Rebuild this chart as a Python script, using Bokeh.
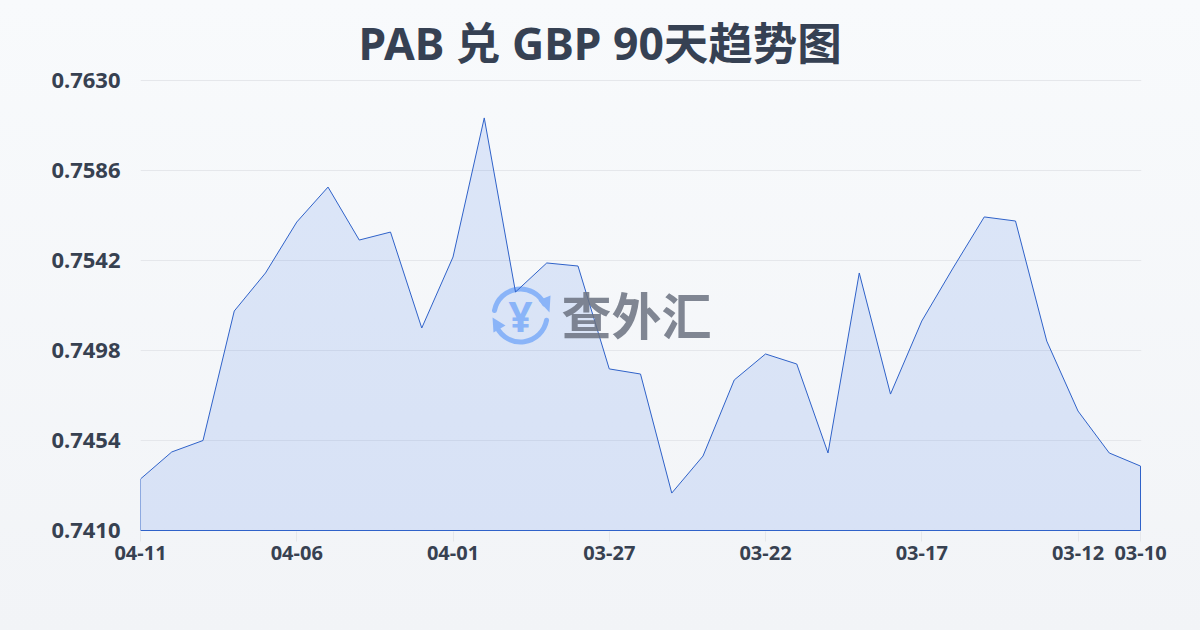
from bokeh.plotting import figure
from bokeh.embed import file_html
from bokeh.resources import INLINE
from bokeh.models import FixedTicker, Label

title = "PAB 兑 GBP 90天趋势图"
tick_labels = ["04-11", "04-06", "04-01", "03-27", "03-22", "03-17", "03-12", "03-10"]
tick_index = [0, 5, 10, 15, 20, 25, 30, 32]
y_ticks = [0.7410, 0.7454, 0.7498, 0.7542, 0.7586, 0.7630]
rates = [0.74352, 0.74484, 0.7454, 0.75173, 0.75359, 0.75608, 0.75779, 0.75520, 0.75559,
         0.7509, 0.75437, 0.76117, 0.75266, 0.75408, 0.75393, 0.74890, 0.74865, 0.74283,
         0.74464, 0.74836, 0.74963, 0.74914, 0.74479, 0.75359, 0.74767, 0.75124, 0.75383,
         0.75633, 0.75613, 0.75026, 0.74684, 0.74479, 0.74415]

LEFT, RIGHT, TOP, BOTTOM = 140, 1141, 79, 531
idx = list(range(len(rates)))
x_px = 32 / 1000
y_px = 0.022 / 450
x0, x1 = 0, 32 + x_px
y0, y1 = 0.7410 - y_px, 0.7630 + y_px

p = figure(width=1200, height=630, output_backend="svg", toolbar_location=None,
           x_range=(x0, x1), y_range=(y0, y1),
           min_border_left=LEFT, min_border_right=1200 - RIGHT,
           min_border_top=TOP, min_border_bottom=630 - BOTTOM,
           background_fill_alpha=0, border_fill_alpha=0, outline_line_color=None,
           styles={"position": "fixed", "left": "0", "top": "0",
                   "background": "linear-gradient(180deg, #f8fafc 0%, #f2f4f7 100%)"})

p.title.text = title
p.title.text_font = "Noto Sans, Noto Sans CJK SC"
p.title.text_font_size = "44.5px"
p.title.text_font_style = "bold"
p.title.text_color = "#364153"
p.title.align = "left"
p.title.offset = 218
p.title.standoff = 14

p.xgrid.visible = False
p.ygrid.grid_line_color = "#e5e7eb"
p.ygrid.grid_line_width = 1
p.ygrid.ticker = FixedTicker(ticks=y_ticks)

p.xaxis.ticker = FixedTicker(ticks=tick_index)
p.xaxis.major_label_overrides = dict(zip(tick_index, tick_labels))
p.xaxis.axis_line_color = None
p.xaxis.major_tick_line_color = "#e5e7eb"
p.xaxis.major_tick_in = 0
p.xaxis.major_tick_out = 10
p.xaxis.minor_tick_line_color = None
p.xaxis.major_label_text_font = "Noto Sans"
p.xaxis.major_label_text_font_style = "bold"
p.xaxis.major_label_text_font_size = "20px"
p.xaxis.major_label_text_color = "#374151"
p.xaxis.major_label_standoff = 4

p.yaxis.ticker = FixedTicker(ticks=y_ticks)
p.yaxis.major_label_overrides = {t: f"{t:.4f}" for t in y_ticks}
p.yaxis.axis_line_color = None
p.yaxis.major_tick_line_color = None
p.yaxis.minor_tick_line_color = None
p.yaxis.major_label_text_font = "Noto Sans"
p.yaxis.major_label_text_font_style = "bold"
p.yaxis.major_label_text_font_size = "22px"
p.yaxis.major_label_text_color = "#374151"
p.yaxis.major_label_standoff = 14

xs = [idx[0]] + idx + [idx[-1], idx[0]]
ys = [y_ticks[0]] + rates + [y_ticks[0], y_ticks[0]]
p.patch(xs, ys, fill_color="#2563eb", fill_alpha=0.13, line_color=None)

# watermark, positioned from pixel coordinates
def dx(px):
    return x0 + (px - LEFT) * x_px
def dy(py):
    return y0 + (BOTTOM - py) * y_px

logo = "#8ab4f8"
cx, cy = dx(520), dy(315)
p.arc([cx], [cy], radius=26.5, radius_units="screen", start_angle=0.45, end_angle=2.95,
      line_color=logo, line_width=5, line_cap="round")
p.arc([cx], [cy], radius=26.5, radius_units="screen", start_angle=3.6, end_angle=6.1,
      line_color=logo, line_width=5, line_cap="round")
p.patch([dx(538), dx(550), dx(549)], [dy(300), dy(295), dy(312)], fill_color=logo, line_color=None)
p.patch([dx(492), dx(505), dx(493)], [dy(317), dy(325), dy(332)], fill_color=logo, line_color=None)
p.add_layout(Label(x=dx(520), y=dy(315), text="¥",
                   text_font="Noto Sans", text_font_style="bold", text_font_size="42px",
                   text_color=logo, text_align="center", text_baseline="middle"))
p.add_layout(Label(x=dx(636), y=dy(312), text="查外汇",
                   text_font="Noto Sans CJK SC", text_font_style="bold", text_font_size="50px",
                   text_color="#6b7280", text_alpha=0.85, text_align="center", text_baseline="middle"))

p.line(xs, ys, line_color="#2f62c9", line_width=1)

open("out.html", "w").write(file_html(p, INLINE))
